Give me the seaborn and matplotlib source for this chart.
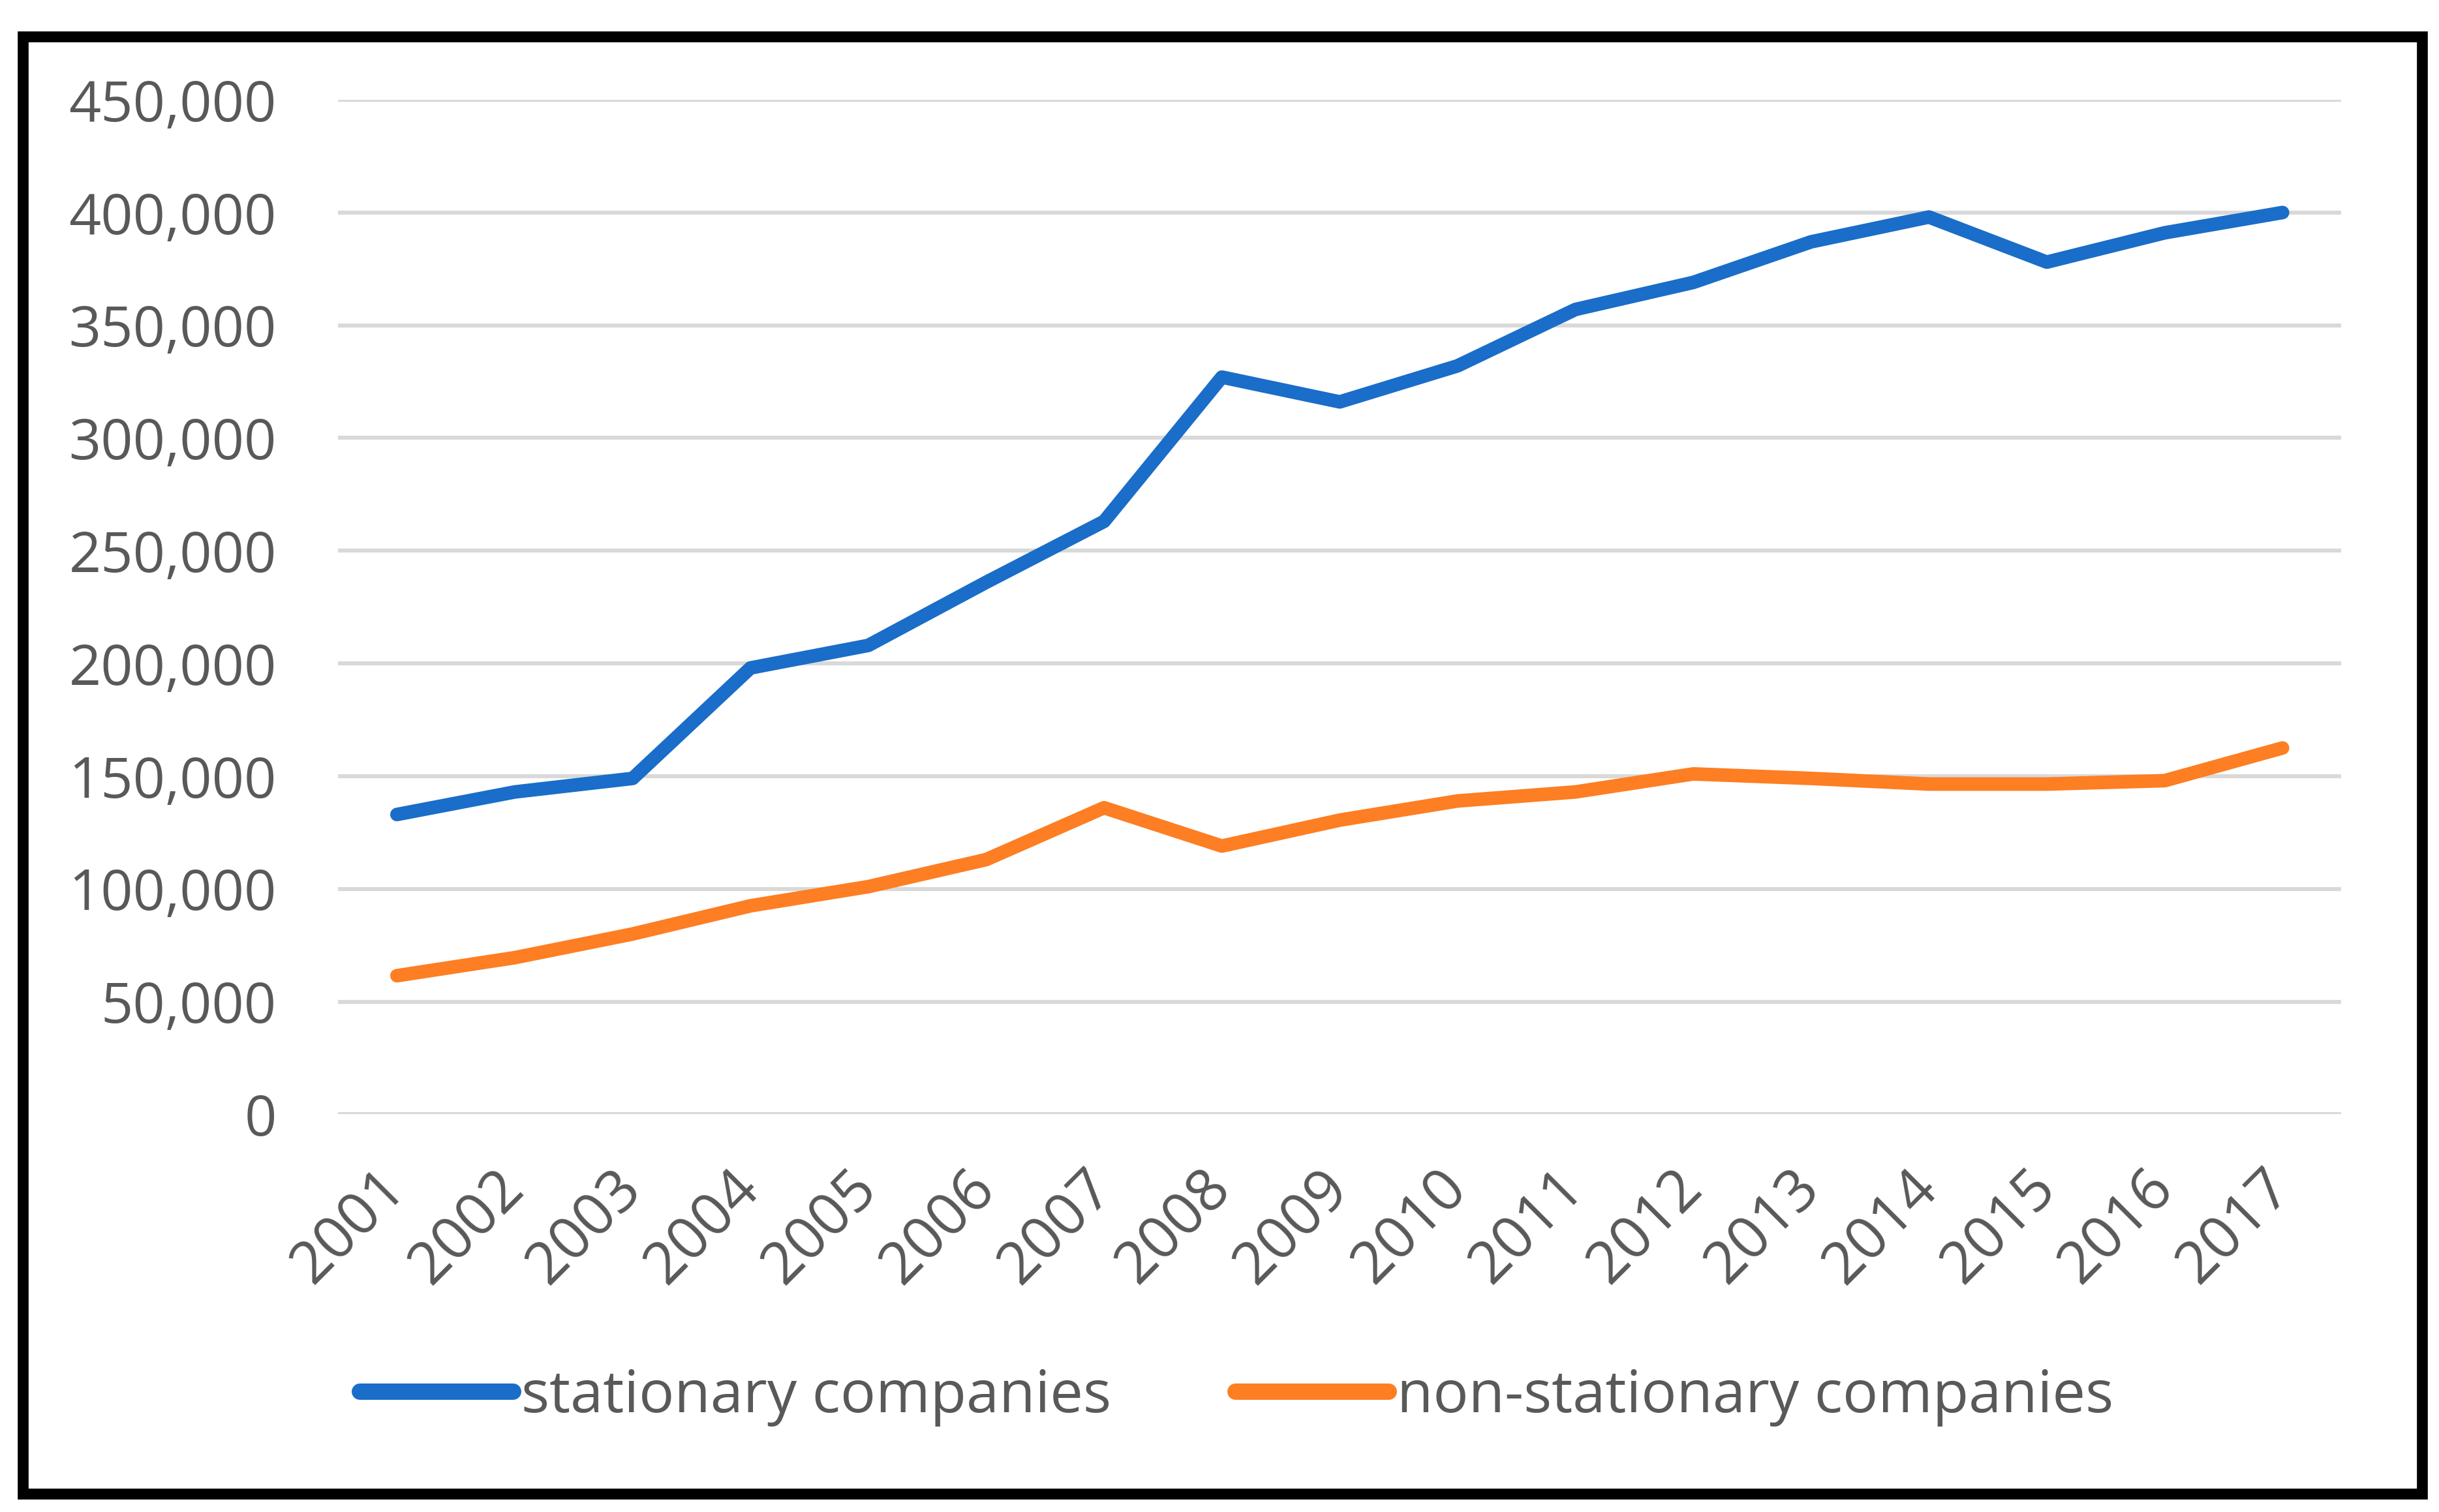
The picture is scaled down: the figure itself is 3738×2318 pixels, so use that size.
import matplotlib
matplotlib.use("Agg")
import matplotlib.pyplot as plt
import seaborn as sns
import pandas as pd
from matplotlib.patches import Rectangle

# Data
years = [str(y) for y in range(2001, 2018)]
stationary = [133000, 143000, 149000, 198000, 208000, 236000, 263000, 327000,
              316000, 332000, 357000, 369000, 387000, 398000, 378000, 391000, 400000]
non_stationary = [61500, 69500, 80000, 92500, 101000, 113000, 136000, 119000,
                  130500, 139000, 143000, 151000, 149000, 146500, 146500, 148000, 162500]
series_names = ["stationary companies", "non-stationary companies"]
y_ticks = [0, 50000, 100000, 150000, 200000, 250000, 300000, 350000, 400000, 450000]
y_tick_labels = ["0", "50,000", "100,000", "150,000", "200,000", "250,000",
                 "300,000", "350,000", "400,000", "450,000"]

df = pd.DataFrame({
    "year": years * 2,
    "value": stationary + non_stationary,
    "series": [series_names[0]] * len(years) + [series_names[1]] * len(years),
})

sns.set_theme(style="white")
plt.rcParams["font.family"] = ["Open Sans", "DejaVu Sans"]

TXT = "#595959"
FS = 31
FS_LEG = 32.5
palette = {series_names[0]: "#1A6DC8", series_names[1]: "#FD7E23"}

fig = plt.figure(figsize=(18.69, 11.59), dpi=200)
ax = fig.add_axes([0.1386, 0.263, 0.8214, 0.671])

sns.lineplot(data=df, x="year", y="value", hue="series", palette=palette,
             linewidth=7.5, sort=False, ax=ax, legend=False,
             solid_capstyle="round", solid_joinstyle="round")

ax.set_xlim(-0.5, len(years) - 0.5)
ax.set_ylim(0, 450000)
ax.set_yticks(y_ticks)
ax.set_yticklabels(y_tick_labels)
ax.grid(axis="y", color="#D9D9D9", linewidth=2.2)
ax.set_axisbelow(True)
for s in ax.spines.values():
    s.set_visible(False)
ax.set_xlabel("")
ax.set_ylabel("")
ax.tick_params(axis="y", length=0, pad=34, labelsize=FS, labelcolor=TXT)
ax.tick_params(axis="x", length=0, pad=36, labelsize=FS_LEG, labelcolor=TXT)
for lbl in ax.get_xticklabels():
    lbl.set_rotation(45)
    lbl.set_ha("right")
    lbl.set_va("center")
    lbl.set_rotation_mode("anchor")

# legend at the bottom
handles = [plt.Line2D([], [], color=palette[n], linewidth=9, solid_capstyle="round")
           for n in series_names]
fig.legend(handles, series_names, loc="center", bbox_to_anchor=(0.507, 0.076),
           ncol=2, frameon=False, fontsize=FS_LEG, labelcolor=TXT,
           handlelength=2.6, handletextpad=0.15, columnspacing=2.1)

# black frame around the chart
fig.patches.append(Rectangle((0.0094, 0.012), 0.9836, 0.964, transform=fig.transFigure,
                             fill=False, edgecolor="black", linewidth=6))

fig.savefig("out.png", dpi=200, facecolor="white")
